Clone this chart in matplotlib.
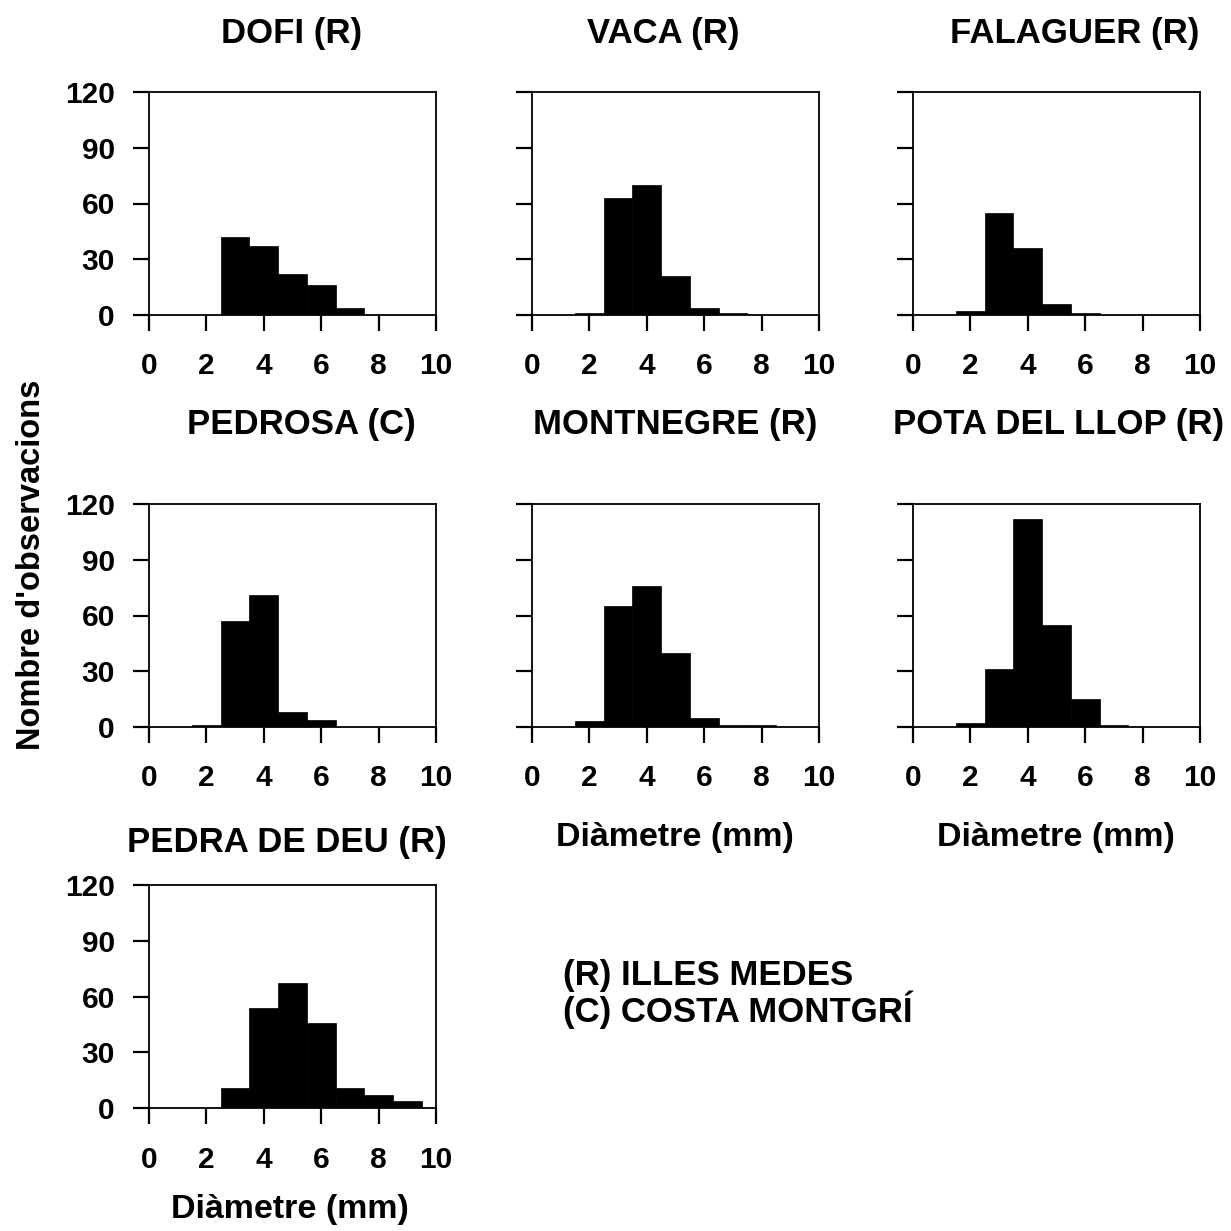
import numpy as np
from matplotlib import pyplot as plt

# bin centres (mm), bins 1 mm wide
diam = [1, 2, 3, 4, 5, 6, 7, 8, 9]

dofi = [0, 0, 42, 37, 22, 16, 4, 0, 0]
vaca = [0, 1, 63, 70, 21, 4, 1, 0, 0]
falaguer = [0, 2, 55, 36, 6, 1, 0, 0, 0]
pedrosa = [0, 1, 57, 71, 8, 4, 0, 0, 0]
montnegre = [0, 3, 65, 76, 40, 5, 1, 1, 0]
pota = [0, 2, 31, 112, 55, 15, 1, 0, 0]
pedra = [0, 0, 11, 54, 67, 46, 11, 7, 4]

titles = ["DOFI (R)", "VACA (R)", "FALAGUER (R)", "PEDROSA (C)",
          "MONTNEGRE (R)", "POTA DEL LLOP (R)", "PEDRA DE DEU (R)"]
series = [dofi, vaca, falaguer, pedrosa, montnegre, pota, pedra]

xticks = [0, 2, 4, 6, 8, 10]
yticks = [0, 30, 60, 90, 120]

plt.rcParams['font.family'] = ['Liberation Sans', 'DejaVu Sans']
plt.rcParams['font.weight'] = 'bold'

W = H = 1231
fig = plt.figure(figsize=(12.31, 12.31), dpi=100)

# axes boxes in pixels: left, top
lefts = [149, 532, 913]
tops = [92, 504, 885]
aw, ah = 287, 223
# title positions (x centre, baseline y) in pixels
title_pos = [(292, 43), (663, 43), (1075, 43),
             (301, 434), (675, 434), (1059, 434),
             (287, 852)]
# xlabel positions (x centre, baseline y) in pixels
xlabel_pos = {4: (675, 846), 5: (1056, 846), 6: (290, 1218)}

for i, (counts, name) in enumerate(zip(series, titles)):
    r, c = divmod(i, 3)
    l, t = lefts[c], tops[r]
    ax = fig.add_axes([l / W, 1 - (t + ah) / H, aw / W, ah / H])
    ax.bar(diam, counts, width=1.0, color='black', edgecolor='black', linewidth=0.5)
    ax.set_xlim(0, 10)
    ax.set_ylim(0, 120)
    ax.set_xticks(xticks)
    ax.set_yticks(yticks)
    ax.tick_params(direction='out', length=11.5, width=1.6, labelsize=21.5)
    ax.tick_params(axis='x', pad=15.5)
    ax.tick_params(axis='y', pad=13)
    if c != 0:
        ax.set_yticklabels([])
    for s in ax.spines.values():
        s.set_linewidth(1.3)
    tx, ty = title_pos[i]
    fig.text(tx / W, 1 - ty / H, name, ha='center', va='baseline',
             fontsize=25, fontweight='bold')
    if i in xlabel_pos:
        lx, ly = xlabel_pos[i]
        fig.text(lx / W, 1 - ly / H, "Diàmetre (mm)", ha='center', va='baseline',
                 fontsize=24.5, fontweight='bold')

fig.text(32 / W, 1 - 565 / H, "Nombre d'observacions", rotation=90,
         ha='center', va='center', fontsize=23.5, fontweight='bold')

fig.text(563 / W, 1 - 985 / H, "(R) ILLES MEDES", ha='left', va='baseline',
         fontsize=25, fontweight='bold')
fig.text(563 / W, 1 - 1022 / H, "(C) COSTA MONTGRÍ", ha='left', va='baseline',
         fontsize=25, fontweight='bold')

fig.savefig("out.png", dpi=100)
